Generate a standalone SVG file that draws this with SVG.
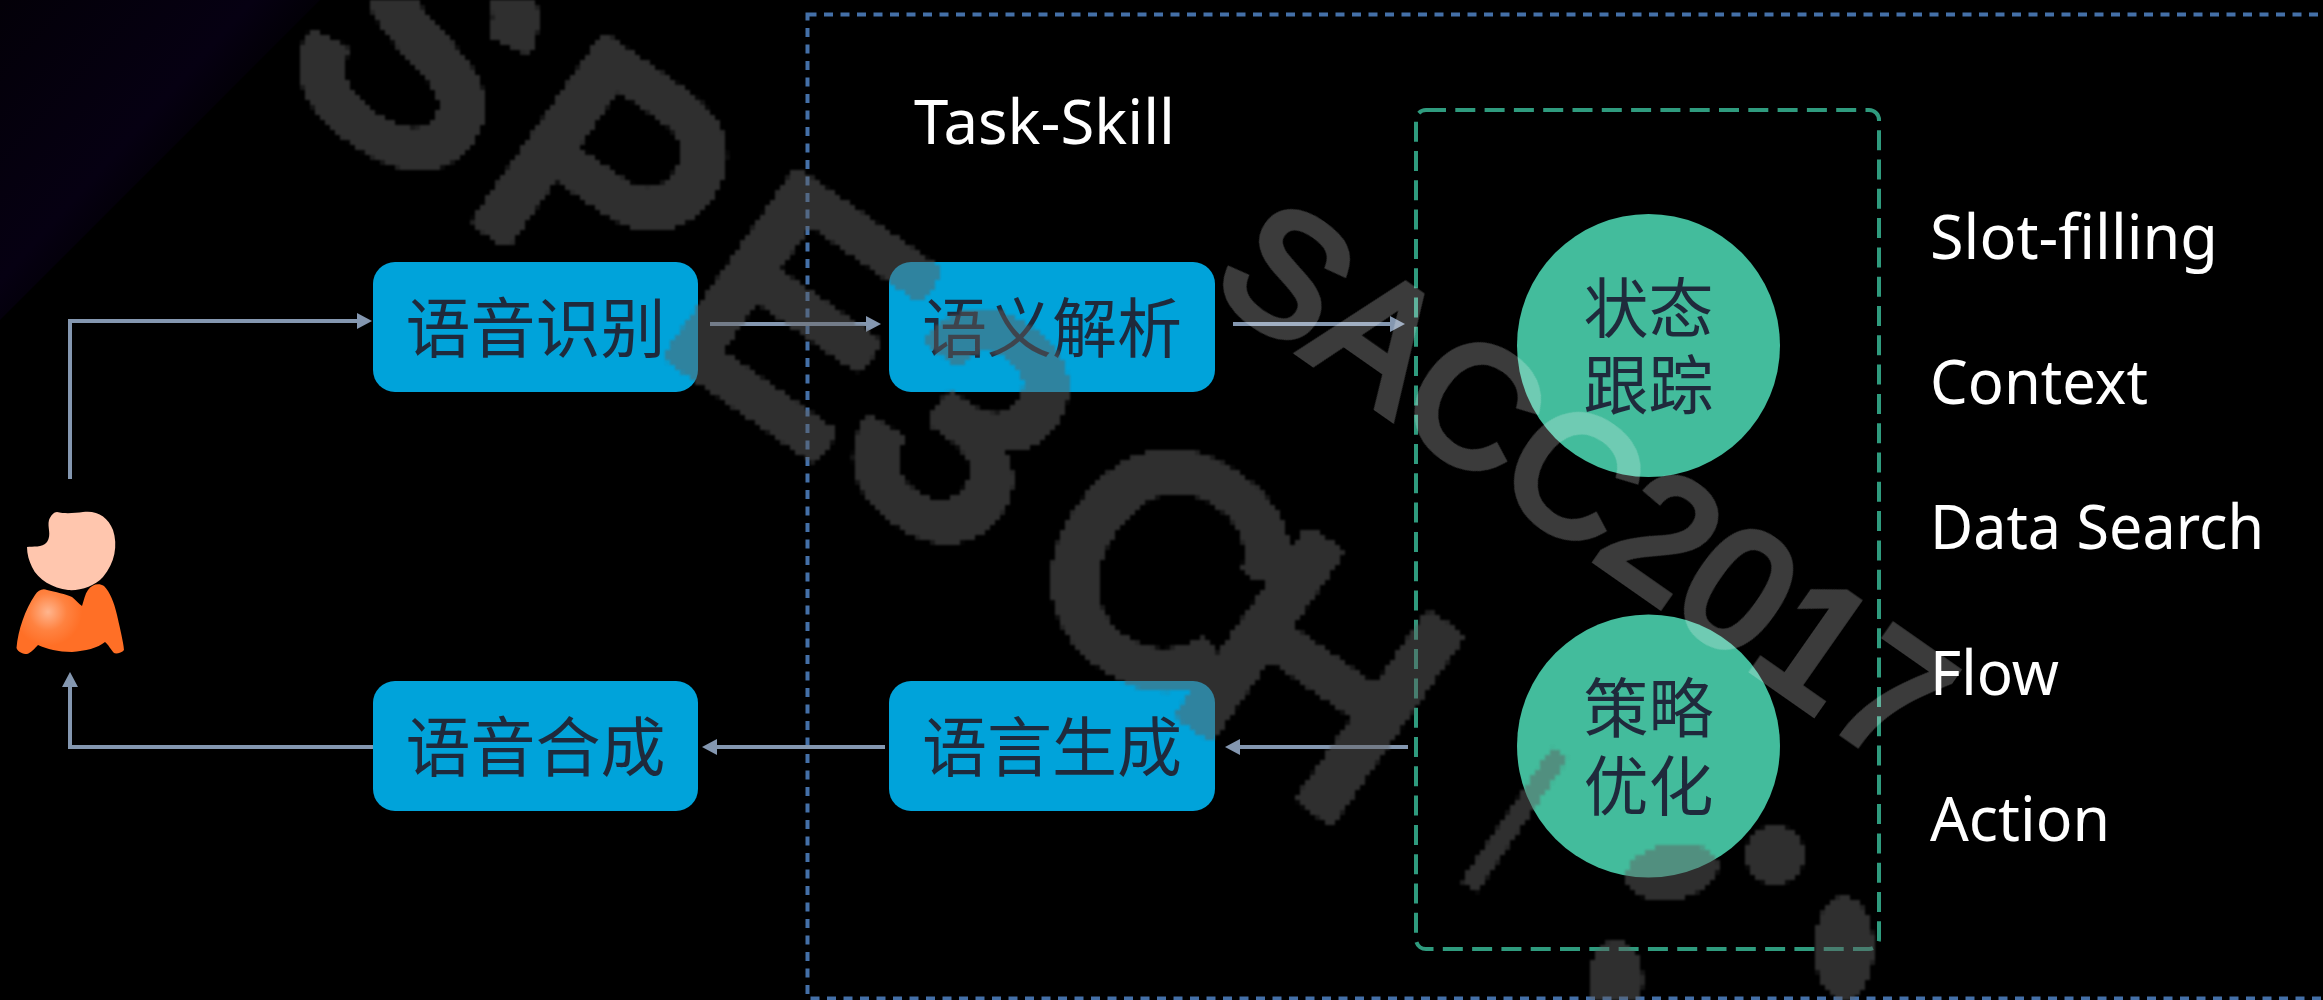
<svg xmlns="http://www.w3.org/2000/svg" width="2323" height="1000" viewBox="0 0 2323 1000">
  <defs>
    <style>
      .box { fill: #00A3DA; }
      .circle { fill: #43BC9C; }
      .cjk { font-family: "Noto Sans CJK SC", "Liberation Sans", sans-serif; font-size: 65px; fill: #1F2A3C; text-anchor: middle; }
      .lat { font-family: "Noto Sans", "Open Sans", sans-serif; font-size: 62px; fill: #FFFFFF; }
      .conn { fill: none; stroke: #8497B0; stroke-width: 4; marker-end: url(#arrow); }
      .wm-big { font-family: "Liberation Sans", sans-serif; font-size: 315px; fill: #626262; stroke: #626262; stroke-width: 18; stroke-linejoin: round; }
      .wm-small { font-family: "Liberation Sans", sans-serif; font-size: 168px; fill: #FFFFFF; stroke: #FFFFFF; stroke-width: 8; }
    </style>
    <marker id="arrow" viewBox="0 -8 15 16" refX="5" refY="0" markerWidth="15" markerHeight="16" markerUnits="userSpaceOnUse" orient="auto">
      <path d="M0,-8 L15,0 L0,8 z" fill="#8497B0"/>
    </marker>
    <linearGradient id="haze" gradientUnits="userSpaceOnUse" x1="0" y1="0" x2="200" y2="180">
      <stop offset="0" stop-color="#030008"/>
      <stop offset="0.7" stop-color="#060012"/>
      <stop offset="1" stop-color="#000000"/>
    </linearGradient>
    <radialGradient id="shirt" gradientUnits="userSpaceOnUse" cx="48" cy="612" r="34">
      <stop offset="0" stop-color="#FFB58E"/>
      <stop offset="0.55" stop-color="#FF8240"/>
      <stop offset="1" stop-color="#FF6F26"/>
    </radialGradient>
    <filter id="pixel" filterUnits="userSpaceOnUse" x="0" y="0" width="2323" height="1000" primitiveUnits="userSpaceOnUse" color-interpolation-filters="sRGB">
      <feFlood x="2" y="2" width="1" height="1" flood-color="#000000"/>
      <feComposite x="0" y="0" width="5" height="5"/>
      <feTile result="dots"/>
      <feComposite in="SourceGraphic" in2="dots" operator="in"/>
      <feMorphology operator="dilate" radius="2"/>
      <feGaussianBlur stdDeviation="1.1"/>
    </filter>
  </defs>

  <rect width="2323" height="1000" fill="#000000"/>
  <polygon points="0,0 320,0 0,320" fill="url(#haze)"/>

  <rect id="task-frame" x="807.5" y="14.5" width="1560" height="984" fill="none" stroke="#4470A8" stroke-width="4" stroke-dasharray="9 7.5"/>
  <rect id="policy-frame" x="1416" y="110" width="463" height="839" rx="10" fill="none" stroke="#2F9B7E" stroke-width="4" stroke-dasharray="20 9.3"/>

  <g id="connectors">
    <path class="conn" d="M70,479 V321 H362"/>
    <path class="conn" d="M710,324 H871"/>
    <path class="conn" d="M1233,324 H1395"/>
    <path class="conn" d="M1408,747 H1235"/>
    <path class="conn" d="M885,747 H712"/>
    <path class="conn" d="M373,747 H70 V682"/>
  </g>

  <g id="user">
    <path fill="#FFC6AE" d="M27,547 C33,546 42,548 47,542 C52,535 47,527 49,520 C51,515 54,512 57,512 C65,514 75,513 83,512 C97,510 108,517 113,530 C118,545 115,563 103,577 C95,586 80,591 68,590 C53,588 38,580 32,567 C29,561 27,554 27,547 Z"/>
    <path fill="url(#shirt)" d="M16.5,648 C18,630 25,610 35,595 C38,590 43,588 47,590 C55,592 66,594 72,597 C76,600 79,604 82,606 C84,600 85,594 88,590 C92,584 99,583 104,586 C110,592 114,602 117,615 C120,628 124,645 124,650 C122,653 116,654 114,653 C111,650 108,644 105,642 C98,648 85,651 72,652 C58,652 47,649 38,645 C35,648 31,653 27,654 C23,654 18,652 16.5,648 Z"/>
  </g>

  <g id="asr"><rect class="box" x="373" y="262" width="325" height="130" rx="22"/><text class="cjk" x="535.5" y="352">语音识别</text></g>
  <g id="nlu"><rect class="box" x="889" y="262" width="326" height="130" rx="22"/><text class="cjk" x="1052" y="352">语义解析</text></g>
  <g id="tts"><rect class="box" x="373" y="681" width="325" height="130" rx="22"/><text class="cjk" x="535.5" y="771">语音合成</text></g>
  <g id="nlg"><rect class="box" x="889" y="681" width="326" height="130" rx="22"/><text class="cjk" x="1052" y="771">语言生成</text></g>
  <g id="state"><circle class="circle" cx="1648.5" cy="345.5" r="131.5"/><text class="cjk"><tspan x="1648.5" y="331.5">状态</tspan><tspan x="1648.5" y="408.5">跟踪</tspan></text></g>
  <g id="policy"><circle class="circle" cx="1648.5" cy="746" r="131.5"/><text class="cjk"><tspan x="1648.5" y="732">策略</tspan><tspan x="1648.5" y="810">优化</tspan></text></g>

  <g id="labels">
    <text class="lat" x="914" y="144" textLength="261" lengthAdjust="spacingAndGlyphs">Task-Skill</text>
    <text class="lat" x="1930" y="259" textLength="288" lengthAdjust="spacingAndGlyphs">Slot-filling</text>
    <text class="lat" x="1930" y="404" textLength="218" lengthAdjust="spacingAndGlyphs">Context</text>
    <text class="lat" x="1930" y="549" textLength="334" lengthAdjust="spacingAndGlyphs">Data Search</text>
    <text class="lat" x="1930" y="695" textLength="129" lengthAdjust="spacingAndGlyphs">Flow</text>
    <text class="lat" x="1930" y="841" textLength="180" lengthAdjust="spacingAndGlyphs">Action</text>
  </g>

  <g id="watermark-large" opacity="0.49">
    <g filter="url(#pixel)">
      <text class="wm-big" transform="rotate(35)" x="265 495 730 945 1165 1355" y="-95">SPE3CH</text>
      <line x1="1560" y1="753" x2="1469" y2="887" stroke="#626262" stroke-width="20"/>
      <ellipse cx="1672" cy="872" rx="47" ry="28" fill="#626262" transform="rotate(-10 1672 872)"/>
      <ellipse cx="1775" cy="855" rx="30" ry="30" fill="#626262"/>
      <ellipse cx="1616" cy="980" rx="27" ry="40" fill="#626262"/>
      <ellipse cx="1844" cy="948" rx="30" ry="52" fill="#626262"/>
    </g>
  </g>
  <text id="watermark-small" class="wm-small" opacity="0.23" transform="translate(1208,289) rotate(35)" x="0" y="0">SACC2017</text>
</svg>
